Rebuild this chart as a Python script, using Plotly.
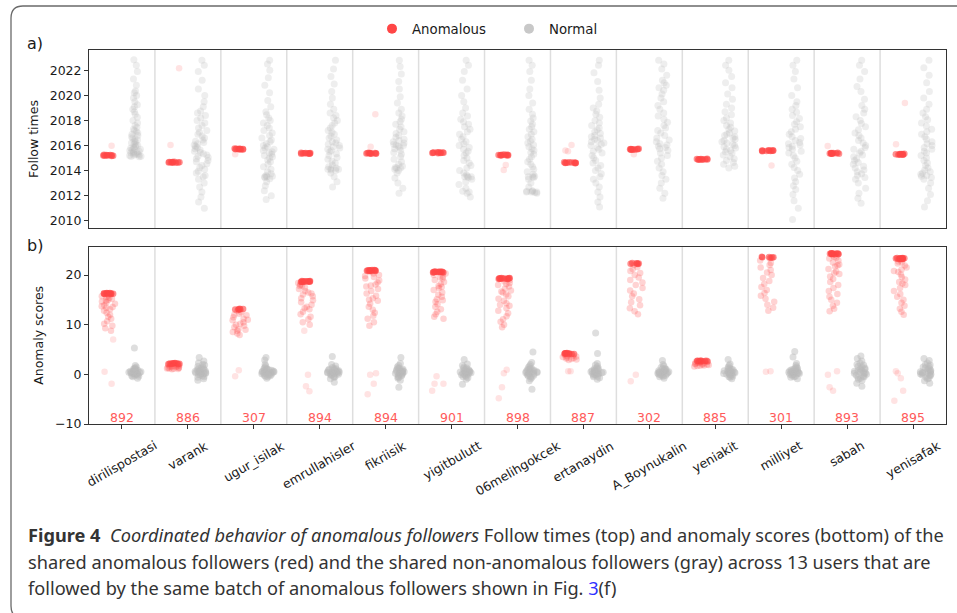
import plotly.graph_objects as go

# ---------------- data ----------------
CATEGORIES = ["dirilispostasi", "varank", "ugur_isilak", "emrullahisler", "fikriisik",
              "yigitbulutt", "06melihgokcek", "ertanaydin", "A_Boynukalin", "yeniakit",
              "milliyet", "sabah", "yenisafak"]
COUNTS = [892, 886, 307, 894, 894, 901, 898, 887, 302, 885, 301, 893, 895]

# (a) follow times of anomalous followers: the tight band, and a few stray points
FOLLOW_ANOM_BAND = [
    [2015.17, 2015.2, 2015.24, 2015.21, 2015.26, 2015.19, 2015.23, 2015.22, 2015.25, 2015.18],
    [2014.62, 2014.65, 2014.69, 2014.66, 2014.7, 2014.63, 2014.67, 2014.64, 2014.68, 2014.66],
    [2015.68, 2015.71, 2015.75, 2015.72, 2015.76, 2015.69, 2015.73, 2015.7, 2015.74, 2015.72],
    [2015.34, 2015.37, 2015.41, 2015.38, 2015.42, 2015.35, 2015.39, 2015.36, 2015.4, 2015.38],
    [2015.35, 2015.38, 2015.41, 2015.37, 2015.42, 2015.34, 2015.39, 2015.36, 2015.4, 2015.38],
    [2015.39, 2015.42, 2015.46, 2015.43, 2015.47, 2015.4, 2015.44, 2015.41, 2015.45, 2015.43],
    [2015.2, 2015.23, 2015.27, 2015.24, 2015.28, 2015.21, 2015.25, 2015.22, 2015.26, 2015.24],
    [2014.59, 2014.62, 2014.66, 2014.63, 2014.67, 2014.6, 2014.64, 2014.61, 2014.65, 2014.63],
    [2015.66, 2015.69, 2015.73, 2015.7, 2015.74, 2015.67, 2015.71, 2015.68, 2015.72, 2015.7],
    [2014.86, 2014.89, 2014.93, 2014.9, 2014.94, 2014.87, 2014.91, 2014.88, 2014.92, 2014.9],
    [2015.55, 2015.58, 2015.62, 2015.59, 2015.63, 2015.56, 2015.6, 2015.57, 2015.61, 2015.59],
    [2015.35, 2015.37, 2015.41, 2015.38, 2015.42, 2015.34, 2015.39, 2015.36, 2015.4, 2015.37],
    [2015.26, 2015.29, 2015.33, 2015.3, 2015.34, 2015.27, 2015.31, 2015.28, 2015.32, 2015.3],
]
FOLLOW_ANOM_STRAY = [
    [2015.99], [2022.16, 2016.04], [2015.3], [], [2018.5, 2015.9], [],
    [2014.45, 2014.05], [2016.04, 2015.6, 2015.55], [2015.3], [], [2014.4],
    [2015.96], [2019.4, 2016.1],
]
# (a) follow times of normal followers
FOLLOW_NORMAL = [
    [2015.1, 2015.12, 2015.15, 2015.2, 2015.22, 2015.25, 2015.3, 2015.33, 2015.38, 2015.42, 2015.47,
     2015.5, 2015.55, 2015.6, 2015.66, 2015.7, 2015.75, 2015.8, 2015.87, 2015.92, 2016.0, 2016.05,
     2016.12, 2016.2, 2016.28, 2016.35, 2016.45, 2016.52, 2016.6, 2016.7, 2016.8, 2016.9, 2017.0,
     2017.1, 2017.2, 2017.3, 2017.45, 2017.6, 2017.8, 2018.0, 2018.25, 2018.5, 2018.7, 2018.9,
     2019.1, 2019.25, 2019.5, 2019.8, 2020.0, 2020.2, 2020.35, 2020.8, 2021.3, 2021.9, 2022.4, 2022.85],
    [2011.0, 2011.5, 2011.9, 2012.3, 2012.7, 2013.0, 2013.3, 2013.5, 2013.6, 2013.8, 2013.95, 2014.1,
     2014.25, 2014.4, 2014.55, 2014.7, 2014.8, 2014.95, 2015.05, 2015.15, 2015.25, 2015.35, 2015.45,
     2015.55, 2015.65, 2015.75, 2015.85, 2015.95, 2016.05, 2016.15, 2016.25, 2016.35, 2016.45, 2016.6,
     2016.75, 2016.9, 2017.05, 2017.2, 2017.4, 2017.6, 2017.8, 2018.0, 2018.2, 2018.4, 2018.6,
     2018.75, 2019.1, 2019.5, 2020.0, 2020.5, 2021.2, 2021.9, 2022.4, 2022.8],
    [2011.7, 2012.0, 2012.4, 2012.8, 2013.1, 2013.35, 2013.45, 2013.5, 2013.5, 2013.55, 2013.6,
     2013.75, 2013.9, 2014.1, 2014.3, 2014.5, 2014.7, 2014.85, 2015.0, 2015.1, 2015.2, 2015.3,
     2015.4, 2015.5, 2015.6, 2015.7, 2015.8, 2015.9, 2016.0, 2016.15, 2016.3, 2016.45, 2016.6,
     2016.8, 2017.0, 2017.2, 2017.4, 2017.6, 2017.8, 2018.0, 2018.2, 2018.45, 2018.7, 2019.1,
     2019.6, 2020.2, 2020.8, 2021.4, 2022.0, 2022.5, 2022.8],
    [2012.7, 2013.1, 2013.5, 2013.8, 2014.0, 2014.05, 2014.1, 2014.1, 2014.15, 2014.2, 2014.3,
     2014.45, 2014.6, 2014.75, 2014.9, 2015.05, 2015.2, 2015.35, 2015.5, 2015.6, 2015.7, 2015.8,
     2015.9, 2016.0, 2016.1, 2016.2, 2016.3, 2016.45, 2016.6, 2016.75, 2016.9, 2017.05, 2017.2,
     2017.4, 2017.6, 2017.8, 2018.0, 2018.2, 2018.4, 2018.6, 2018.9, 2019.3, 2019.8, 2020.3,
     2020.9, 2021.5, 2022.1, 2022.8],
    [2012.2, 2012.6, 2013.0, 2013.4, 2013.8, 2014.0, 2014.1, 2014.2, 2014.2, 2014.25, 2014.35,
     2014.5, 2014.7, 2014.9, 2015.1, 2015.3, 2015.45, 2015.6, 2015.75, 2015.85, 2015.95, 2016.0,
     2016.05, 2016.1, 2016.2, 2016.3, 2016.4, 2016.5, 2016.65, 2016.8, 2016.95, 2017.1, 2017.3,
     2017.5, 2017.7, 2017.9, 2018.1, 2018.35, 2018.6, 2018.9, 2019.4, 2019.9, 2020.5, 2021.1,
     2021.7, 2022.3, 2022.8],
    [2011.9, 2012.2, 2012.3, 2012.35, 2012.6, 2012.9, 2013.1, 2013.3, 2013.45, 2013.5, 2013.5,
     2013.55, 2013.65, 2013.8, 2014.0, 2014.2, 2014.4, 2014.6, 2014.8, 2015.0, 2015.2, 2015.4,
     2015.55, 2015.7, 2015.85, 2016.0, 2016.15, 2016.3, 2016.5, 2016.7, 2016.9, 2017.1, 2017.3,
     2017.5, 2017.7, 2017.9, 2018.1, 2018.35, 2018.6, 2019.0, 2019.5, 2020.0, 2020.5, 2021.2,
     2021.9, 2022.4, 2022.8],
    [2012.2, 2012.25, 2012.3, 2012.3, 2012.3, 2012.35, 2012.35, 2012.4, 2012.7, 2013.0, 2013.3,
     2013.45, 2013.5, 2013.5, 2013.55, 2013.7, 2013.9, 2014.1, 2014.3, 2014.5, 2014.7, 2014.9,
     2015.1, 2015.3, 2015.45, 2015.6, 2015.75, 2015.9, 2016.05, 2016.2, 2016.35, 2016.5, 2016.7,
     2016.9, 2017.1, 2017.3, 2017.5, 2017.7, 2017.95, 2018.2, 2018.5, 2018.9, 2019.4, 2020.0,
     2020.5, 2021.2, 2021.9, 2022.4, 2022.8],
    [2011.1, 2011.5, 2011.9, 2012.3, 2012.7, 2013.0, 2013.3, 2013.5, 2013.75, 2014.0, 2014.2,
     2014.4, 2014.6, 2014.8, 2015.0, 2015.2, 2015.4, 2015.55, 2015.7, 2015.85, 2016.0, 2016.1,
     2016.2, 2016.3, 2016.4, 2016.5, 2016.6, 2016.7, 2016.8, 2016.95, 2017.1, 2017.25, 2017.4,
     2017.6, 2017.8, 2018.0, 2018.25, 2018.5, 2018.75, 2019.0, 2019.3, 2019.8, 2020.4, 2021.1,
     2021.8, 2022.4, 2022.8],
    [2011.8, 2012.2, 2012.6, 2013.0, 2013.3, 2013.6, 2013.9, 2014.2, 2014.5, 2014.75, 2015.0,
     2015.2, 2015.4, 2015.6, 2015.75, 2015.85, 2015.95, 2016.05, 2016.15, 2016.3, 2016.45, 2016.6,
     2016.8, 2017.0, 2017.2, 2017.4, 2017.6, 2017.85, 2018.1, 2018.35, 2018.6, 2018.9, 2019.2,
     2019.5, 2019.8, 2020.1, 2020.4, 2020.6, 2020.8, 2021.0, 2021.2, 2021.6, 2022.1, 2022.5, 2022.8],
    [2014.2, 2014.35, 2014.5, 2014.65, 2014.8, 2014.95, 2015.1, 2015.25, 2015.4, 2015.5, 2015.6,
     2015.7, 2015.8, 2015.9, 2016.0, 2016.1, 2016.2, 2016.3, 2016.4, 2016.5, 2016.6, 2016.7,
     2016.8, 2016.9, 2017.0, 2017.15, 2017.3, 2017.45, 2017.6, 2017.8, 2018.0, 2018.2, 2018.45,
     2018.7, 2019.0, 2019.3, 2019.7, 2020.1, 2020.6, 2021.0, 2021.5, 2022.0, 2022.4, 2022.8],
    [2010.1, 2011.0, 2011.6, 2012.1, 2012.5, 2012.8, 2013.1, 2013.4, 2013.7, 2014.0, 2014.25,
     2014.5, 2014.75, 2015.0, 2015.2, 2015.4, 2015.55, 2015.7, 2015.85, 2015.95, 2016.05, 2016.15,
     2016.25, 2016.4, 2016.55, 2016.7, 2016.9, 2017.1, 2017.3, 2017.5, 2017.7, 2017.9, 2018.15,
     2018.4, 2018.65, 2018.9, 2019.2, 2019.5, 2020.0, 2020.6, 2021.3, 2021.9, 2022.4, 2022.8],
    [2011.4, 2011.8, 2012.2, 2012.6, 2013.0, 2013.3, 2013.45, 2013.6, 2013.75, 2013.9, 2014.05,
     2014.2, 2014.35, 2014.5, 2014.65, 2014.8, 2014.95, 2015.1, 2015.25, 2015.4, 2015.55, 2015.7,
     2015.85, 2016.0, 2016.2, 2016.4, 2016.6, 2016.8, 2017.0, 2017.25, 2017.5, 2017.75, 2018.0,
     2018.3, 2018.6, 2018.9, 2019.2, 2019.7, 2020.3, 2020.7, 2021.3, 2021.9, 2022.4, 2022.8],
    [2011.1, 2011.6, 2012.1, 2012.6, 2013.0, 2013.3, 2013.45, 2013.55, 2013.6, 2013.7, 2013.8,
     2013.9, 2014.05, 2014.2, 2014.4, 2014.6, 2014.8, 2015.0, 2015.2, 2015.4, 2015.55, 2015.7,
     2015.85, 2016.0, 2016.15, 2016.3, 2016.5, 2016.7, 2016.9, 2017.1, 2017.3, 2017.55, 2017.8,
     2018.05, 2018.3, 2018.6, 2018.9, 2019.3, 2019.8, 2020.3, 2021.0, 2021.6, 2022.2, 2022.8],
]

# (b) anomaly scores of anomalous followers: saturated cap band, spread cloud, stray points
SCORE_ANOM_CAP = [
    [16.2, 16.3, 16.35, 16.25, 16.4, 16.3, 16.2, 16.35, 16.3, 16.25, 16.4, 16.3],
    [2.1, 2.2, 2.25, 2.15, 2.3, 2.2, 2.1, 2.25, 2.2, 2.15],
    [13.0, 13.1, 13.2, 13.05, 13.15, 13.1],
    [18.6, 18.7, 18.75, 18.65, 18.8, 18.7, 18.6, 18.75, 18.7, 18.65, 18.8, 18.7],
    [20.8, 20.9, 20.95, 20.85, 21.0, 20.9, 20.8, 20.95, 20.9, 20.85, 21.0, 20.9],
    [20.5, 20.6, 20.65, 20.55, 20.7, 20.6, 20.5, 20.65, 20.6, 20.55, 20.7, 20.6],
    [19.2, 19.3, 19.35, 19.25, 19.4, 19.3, 19.2, 19.35, 19.3, 19.25, 19.4, 19.3],
    [4.1, 4.2, 4.25, 4.15, 4.3, 4.2, 4.1, 4.25, 4.2, 4.15],
    [22.2, 22.3, 22.35, 22.25, 22.4, 22.3],
    [2.6, 2.7, 2.75, 2.65, 2.8, 2.7, 2.6, 2.75, 2.7, 2.65],
    [23.5, 23.6, 23.65, 23.55, 23.7, 23.6],
    [24.2, 24.3, 24.35, 24.25, 24.4, 24.3, 24.2, 24.35, 24.3, 24.25, 24.4, 24.3],
    [23.2, 23.3, 23.35, 23.25, 23.4, 23.3, 23.2, 23.35, 23.3, 23.25, 23.4, 23.3],
]
SCORE_ANOM_SPREAD = [
    [15.9, 15.7, 15.4, 15.2, 15.0, 14.8, 14.5, 14.2, 13.9, 13.7, 13.4, 13.1, 12.8, 12.4, 12.0,
     11.6, 11.2, 10.7, 10.2, 9.8, 9.3, 8.8, 15.55, 14.65, 13.55],
    [2.0, 1.9, 1.8, 1.7, 1.6, 1.5, 1.4, 1.3, 1.2, 1.1, 1.0, 1.75, 1.55, 1.35, 1.15, 1.05],
    [12.8, 12.5, 12.2, 11.9, 11.5, 11.2, 10.9, 10.5, 10.2, 9.8, 9.5, 9.1, 8.8, 8.5, 8.2, 7.9,
     12.0, 11.0, 10.0, 9.0],
    [18.4, 18.1, 17.8, 17.5, 17.2, 16.8, 16.5, 16.1, 15.7, 15.3, 14.9, 14.5, 14.0, 13.6, 13.1,
     12.6, 12.1, 11.6, 11.1, 10.5, 10.0, 17.9, 16.3, 13.3],
    [20.6, 20.3, 20.0, 19.6, 19.3, 18.9, 18.5, 18.1, 17.7, 17.2, 16.8, 16.3, 15.8, 15.3, 14.8,
     14.2, 13.6, 13.0, 12.4, 11.8, 11.2, 10.5, 9.8, 19.8, 17.9, 15.0],
    [20.3, 20.0, 19.7, 19.3, 19.0, 18.6, 18.2, 17.8, 17.4, 17.0, 16.5, 16.0, 15.6, 15.1, 14.6,
     14.1, 13.6, 13.1, 12.6, 12.1, 11.6, 11.2, 19.5, 17.6, 14.9],
    [19.0, 18.7, 18.4, 18.0, 17.7, 17.3, 16.9, 16.5, 16.1, 15.7, 15.2, 14.8, 14.3, 13.8, 13.3,
     12.8, 12.3, 11.7, 11.1, 10.6, 10.0, 9.5, 18.2, 16.7, 14.0],
    [4.0, 3.8, 3.6, 3.4, 3.2, 3.0, 3.9, 3.7, 3.5, 3.3, 3.1, 2.9],
    [22.0, 21.6, 21.2, 20.8, 20.4, 20.0, 19.5, 19.0, 18.5, 18.0, 17.4, 16.9, 16.3, 15.7, 15.1,
     14.5, 13.9, 13.3, 12.7, 12.1],
    [2.5, 2.4, 2.3, 2.2, 2.1, 2.0, 1.9, 1.8, 1.7, 1.6, 2.35, 2.15, 1.95, 1.75],
    [23.3, 22.9, 22.4, 22.0, 21.5, 21.0, 20.5, 20.0, 19.4, 18.8, 18.2, 17.6, 17.0, 16.4, 15.8,
     15.2, 14.6, 14.0, 13.4, 12.8],
    [24.0, 23.7, 23.3, 22.9, 22.5, 22.1, 21.7, 21.2, 20.7, 20.2, 19.7, 19.2, 18.6, 18.0, 17.4,
     16.8, 16.2, 15.6, 15.0, 14.4, 13.8, 13.2, 12.7, 23.5, 21.9, 20.4],
    [23.0, 22.7, 22.3, 21.9, 21.5, 21.1, 20.6, 20.1, 19.6, 19.1, 18.6, 18.0, 17.4, 16.8, 16.2,
     15.6, 15.0, 14.4, 13.8, 13.2, 12.6, 12.0, 22.5, 20.8, 18.3],
]
SCORE_ANOM_STRAY = [
    [7.0, 0.5, -1.9], [], [-0.4, 0.8], [8.8, -0.1, -2.4, -3.4], [0.2, -0.1, -1.9, -4.0],
    [-0.4, -1.9, -1.9, -3.3], [0.9, 0.2, -2.6, -4.8], [0.6, 0.6], [-0.1, -1.4], [],
    [0.6, 0.5], [0.6, -0.1, -2.6, -3.3], [0.6, 0.2, -0.8, -3.3, -5.3],
]
# (b) anomaly scores of normal followers
SCORE_NORMAL = [
    [-0.8, -0.5, -0.3, -0.1, 0.0, 0.1, 0.2, 0.3, 0.4, 0.5, 0.6, 0.7, 0.9, 1.1, 1.3, 1.5, 1.8, 0.2,
     0.5, -0.2, 5.3, 0.15, 0.35, 0.45, 0.65, 0.8, 1.0, -0.4, 1.2],
    [-1.2, -0.9, -0.6, -0.3, -0.1, 0.1, 0.2, 0.4, 0.5, 0.7, 0.9, 1.1, 1.3, 1.6, 1.9, 2.3, 2.7, 0.3,
     0.6, 0.0, 3.4, 0.15, 0.35, 0.55, 0.8, 1.0, -0.5, 1.4, 2.0],
    [-0.8, -0.5, -0.3, -0.1, 0.0, 0.2, 0.3, 0.4, 0.5, 0.7, 0.8, 1.0, 1.2, 1.4, 1.7, 2.0, 0.3, 0.6,
     -0.2, 2.9, 3.4, 0.1, 0.35, 0.45, 0.65, 0.9, -0.4, 1.1],
    [-0.9, -0.6, -0.4, -0.2, 0.0, 0.1, 0.2, 0.4, 0.5, 0.6, 0.8, 1.0, 1.2, 1.4, 1.7, 2.0, 0.3, 0.5,
     -0.1, 3.6, -1.6, 0.15, 0.35, 0.45, 0.7, 0.9, -0.5, 1.1],
    [-1.2, -0.8, -0.5, -0.3, -0.1, 0.1, 0.2, 0.3, 0.5, 0.6, 0.8, 1.0, 1.2, 1.5, 1.8, 2.2, 0.3, 0.6,
     -0.1, 3.4, -2.6, 0.15, 0.4, 0.45, 0.7, 0.9, -0.6, 1.3],
    [-1.0, -0.7, -0.4, -0.2, 0.0, 0.1, 0.3, 0.4, 0.5, 0.7, 0.8, 1.0, 1.3, 1.5, 1.8, 2.1, 0.2, 0.6,
     -0.1, 3.0, -2.0, 0.15, 0.35, 0.45, 0.65, 0.9, -0.5, 1.2],
    [-1.3, -0.9, -0.6, -0.3, -0.1, 0.1, 0.2, 0.4, 0.5, 0.7, 0.9, 1.1, 1.4, 1.7, 2.0, 2.4, 0.3, 0.6,
     -0.2, 4.5, -3.0, 0.15, 0.35, 0.55, 0.8, 1.0, -0.5, 1.2],
    [-1.0, -0.7, -0.4, -0.2, 0.0, 0.1, 0.3, 0.4, 0.5, 0.7, 0.9, 1.1, 1.3, 1.6, 1.9, 2.2, 0.2, 0.6,
     -0.1, 4.2, 8.3, 0.15, 0.35, 0.45, 0.65, 0.8, -0.5, 1.2],
    [-0.8, -0.5, -0.3, -0.1, 0.0, 0.2, 0.3, 0.4, 0.5, 0.7, 0.8, 1.0, 1.2, 1.4, 1.7, 2.0, 0.3, 0.6,
     -0.2, 2.8, 0.1, 0.35, 0.45, 0.65, 0.9, -0.4, 1.1],
    [-0.9, -0.6, -0.4, -0.2, 0.0, 0.1, 0.2, 0.4, 0.5, 0.6, 0.8, 1.0, 1.2, 1.5, 1.8, 2.1, 0.3, 0.5,
     -0.1, 3.0, 0.15, 0.35, 0.45, 0.7, 0.9, -0.5, 1.1],
    [-0.9, -0.6, -0.4, -0.2, 0.0, 0.1, 0.3, 0.4, 0.5, 0.7, 0.8, 1.0, 1.3, 1.5, 1.8, 2.2, 0.2, 0.6,
     -0.1, 3.5, 4.6, 0.15, 0.35, 0.45, 0.65, 0.9, -0.5, 1.2],
    [-2.4, -1.8, -1.2, -0.8, -0.5, -0.2, 0.0, 0.2, 0.4, 0.6, 0.8, 1.0, 1.3, 1.6, 1.9, 2.3, 2.7,
     3.2, 3.7, 0.1, 0.5, -0.4, 0.3, 0.7, 1.1, -1.0, 1.5, 2.0, -0.6],
    [-1.8, -1.3, -0.9, -0.6, -0.3, -0.1, 0.1, 0.3, 0.4, 0.6, 0.8, 1.0, 1.3, 1.6, 1.9, 2.3, 2.8,
     3.2, 0.2, 0.5, -0.2, 0.35, 0.7, 1.1, -0.8, 1.5, 2.0, 0.0],
]

FOLLOW_TICKS = [2010, 2012, 2014, 2016, 2018, 2020, 2022]
SCORE_TICKS = [-10, 0, 10, 20]

CAPTION_LINES = [
    "<b>Figure 4</b>  <i>Coordinated behavior of anomalous followers</i> Follow times (top) and anomaly scores (bottom) of the",
    "shared anomalous followers (red) and the shared non-anomalous followers (gray) across 13 users that are",
    "followed by the same batch of anomalous followers shown in Fig. <span style='color:#3030ff'>3</span>(f)",
]

# ---------------- styling / geometry ----------------
W, H = 957, 613
ML, MR, MT, MB = 89, 11, 50, 189
PW, PH = W - ML - MR, H - MT - MB
RED = "rgb(255,70,70)"
GRAY = "rgb(185,185,185)"
FONT = "DejaVu Sans"
TXT = "#1a1a1a"


def px_x(px):
    return (px - ML) / PW


def px_y(py):
    return (H - MB - py) / PH


def strip(lists, color, opacity, group, xa, ya, size=6.5, jitter=0.45):
    xs, ys = [], []
    for cat, vals in zip(CATEGORIES, lists):
        xs += [cat] * len(vals)
        ys += list(vals)
    return go.Box(
        x=xs, y=ys, boxpoints="all", jitter=jitter, pointpos=0,
        offsetgroup=group, alignmentgroup=xa,
        marker=dict(color=color, opacity=opacity, size=size, line=dict(width=0)),
        line=dict(width=0, color="rgba(0,0,0,0)"), fillcolor="rgba(0,0,0,0)",
        whiskerwidth=0, showlegend=False, hoverinfo="skip", xaxis=xa, yaxis=ya,
    )


fig = go.Figure()
# panel a (anomalous group first -> left slot)
fig.add_trace(strip(FOLLOW_ANOM_BAND, RED, 0.6, "anom", "x", "y"))
fig.add_trace(strip(FOLLOW_ANOM_STRAY, RED, 0.15, "anom", "x", "y"))
fig.add_trace(strip(FOLLOW_NORMAL, GRAY, 0.24, "norm", "x", "y", size=7, jitter=0.55))
# panel b
fig.add_trace(strip(SCORE_ANOM_CAP, RED, 0.6, "anom", "x2", "y2"))
fig.add_trace(strip(SCORE_ANOM_SPREAD, RED, 0.24, "anom", "x2", "y2", jitter=0.6))
fig.add_trace(strip(SCORE_ANOM_STRAY, RED, 0.15, "anom", "x2", "y2"))
fig.add_trace(strip(SCORE_NORMAL, GRAY, 0.48, "norm", "x2", "y2", size=7, jitter=0.5))

# legend entries
for name, col in (("Anomalous", RED), ("Normal", "rgb(200,200,200)")):
    fig.add_trace(go.Scatter(x=[None], y=[None], mode="markers", name=name,
                             marker=dict(color=col, size=10), xaxis="x", yaxis="y"))

axis_common = dict(showline=True, mirror=True, linecolor="#333", linewidth=1,
                   showgrid=False, zeroline=False,
                   tickfont=dict(family=FONT, size=12.5, color=TXT))
xcat = dict(type="category", categoryorder="array", categoryarray=CATEGORIES,
            range=[-0.5, len(CATEGORIES) - 0.5], showticklabels=False)

fig.update_layout(
    width=W, height=H, autosize=False,
    margin=dict(l=ML, r=MR, t=MT, b=MB),
    paper_bgcolor="white", plot_bgcolor="white",
    boxmode="group", boxgap=0.18, boxgroupgap=0,
    font=dict(family=FONT, size=12.5, color=TXT),
    xaxis=dict(domain=[0, 1], anchor="y", ticks="", **xcat, **axis_common),
    yaxis=dict(domain=[px_y(228), 1], anchor="x", range=[2009.42, 2023.62],
               tickvals=FOLLOW_TICKS, ticks="outside", ticklen=4, tickcolor="#333",
               title=dict(text="Follow times", standoff=8,
                          font=dict(family=FONT, size=12.5, color=TXT)),
               **axis_common),
    xaxis2=dict(domain=[0, 1], anchor="y2", ticks="outside", ticklen=4, tickcolor="#333",
                **xcat, **axis_common),
    yaxis2=dict(domain=[0, px_y(246.7)], anchor="x2", range=[-10, 25.7],
                tickvals=SCORE_TICKS, ticks="outside", ticklen=4, tickcolor="#333",
                title=dict(text="Anomaly scores", standoff=8,
                           font=dict(family=FONT, size=12.5, color=TXT)),
                **axis_common),
    legend=dict(orientation="h", x=px_x(372), xanchor="left", y=px_y(29), yanchor="middle",
                font=dict(family=FONT, size=13.3, color=TXT), bgcolor="rgba(0,0,0,0)",
                itemsizing="trace", entrywidth=92, entrywidthmode="pixels"),
)

shapes = []
for i in range(len(CATEGORIES) - 1):
    for xa, ya in (("x", "y"), ("x2", "y2")):
        shapes.append(dict(type="line", xref=xa, yref=f"{ya} domain", x0=i + 0.5, x1=i + 0.5,
                           y0=0, y1=1, line=dict(color="#dedede", width=1.5), layer="below"))
# rounded figure frame
frame = (f"M {px_x(960)},{px_y(6)} L {px_x(23)},{px_y(6)} "
         f"Q {px_x(11)},{px_y(6)} {px_x(11)},{px_y(18)} "
         f"L {px_x(11)},{px_y(606)} Q {px_x(11)},{px_y(618)} {px_x(23)},{px_y(618)} "
         f"L {px_x(960)},{px_y(618)}")
shapes.append(dict(type="path", xref="paper", yref="paper", path=frame,
                   line=dict(color="#6a6a6a", width=1.3)))
fig.update_layout(shapes=shapes)

ann = []
for cat, n in zip(CATEGORIES, COUNTS):
    ann.append(dict(x=cat, xref="x2", y=px_y(417.7), yref="paper", text=str(n),
                    showarrow=False, xanchor="center", yanchor="middle",
                    font=dict(family=FONT, size=12.5, color="#ff5a5a")))
    ann.append(dict(x=cat, xref="x2", y=px_y(435), yref="paper", text=cat,
                    showarrow=False, xanchor="center", yanchor="top", textangle=-30,
                    font=dict(family=FONT, size=12.5, color=TXT)))
ann.append(dict(x=px_x(25), xref="paper", y=px_y(44), yref="paper", text="a)",
                showarrow=False, xanchor="left", yanchor="middle",
                font=dict(family=FONT, size=16, color=TXT)))
ann.append(dict(x=px_x(25), xref="paper", y=px_y(245), yref="paper", text="b)",
                showarrow=False, xanchor="left", yanchor="middle",
                font=dict(family=FONT, size=16, color=TXT)))
for line, yc in zip(CAPTION_LINES, (535, 561.5, 588)):
    ann.append(dict(x=px_x(26), xref="paper", y=px_y(yc), yref="paper", text=line,
                    showarrow=False, xanchor="left", yanchor="middle", align="left",
                    font=dict(family="Noto Sans", size=18.2, color="#333")))
fig.update_layout(annotations=ann)

fig.write_html("out.html", config={"displayModeBar": False},
               post_script="document.body.style.margin='0';document.body.style.overflow='hidden';")
